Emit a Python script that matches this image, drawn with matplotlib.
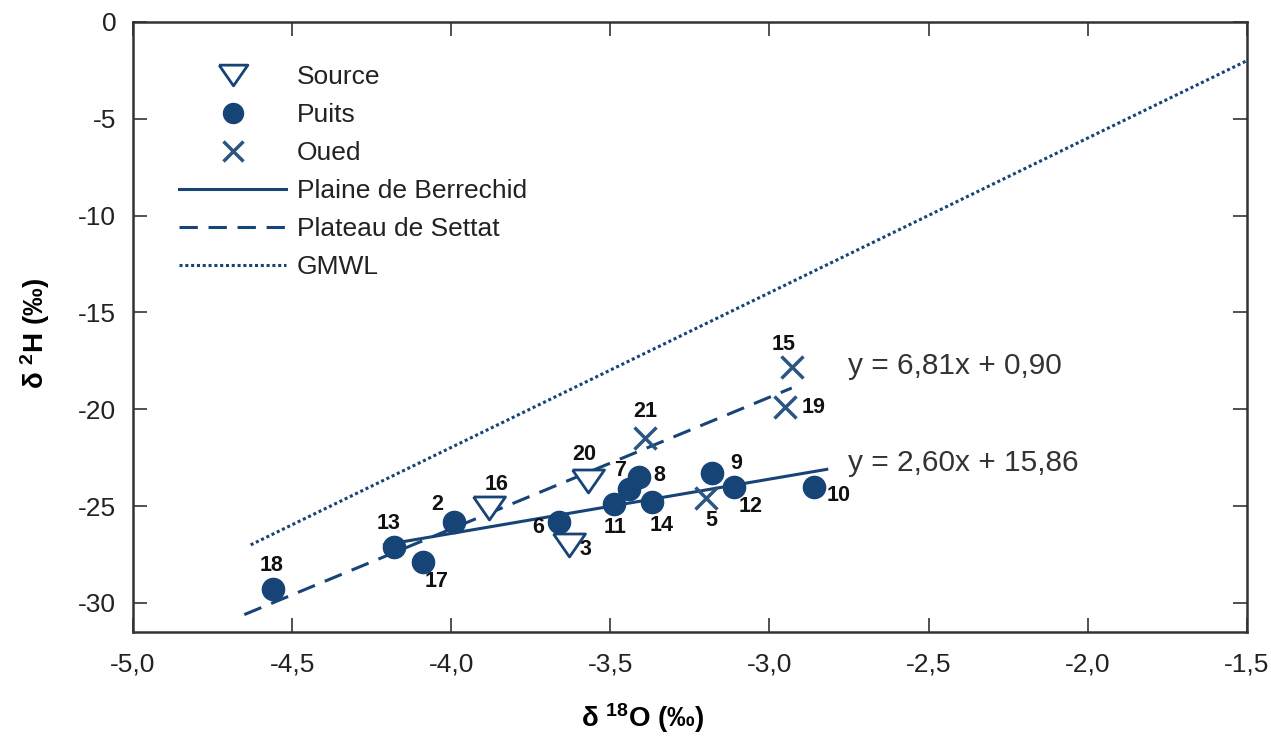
import numpy as np
import matplotlib.pyplot as plt
from matplotlib.ticker import FuncFormatter

plt.rcParams['font.family'] = ['Liberation Sans', 'DejaVu Sans']
plt.rcParams['mathtext.default'] = 'regular'

### 0. Data
# source (triangles)
src_id = ['16', '20', '3']
src_x = [-3.88, -3.57, -3.63]
src_y = [-25.1, -23.7, -27.0]

# puits (wells)
pts_id = ['18', '13', '17', '2', '6', '11', '7', '8', '14', '9', '12', '10']
pts_x = [-4.56, -4.18, -4.09, -3.99, -3.66, -3.49, -3.44, -3.41, -3.37, -3.18, -3.11, -2.86]
pts_y = [-29.3, -27.1, -27.9, -25.8, -25.8, -24.9, -24.1, -23.5, -24.8, -23.3, -24.0, -24.0]

# oued (river)
oued_id = ['21', '5', '15', '19']
oued_x = [-3.39, -3.20, -2.93, -2.95]
oued_y = [-21.5, -24.6, -17.8, -19.9]

# regression lines (end points)
berr_x = [-4.21, -2.82]
berr_y = [-27.0, -23.1]
sett_x = [-4.65, -2.93]
sett_y = [-30.6, -18.9]
gmwl_x = [-4.63, -1.50]
gmwl_y = [-27.0, -2.0]

# label offsets in points
lbl_off = {
    '18': (-1, 17), '13': (-4, 17), '17': (10, -14), '2': (-12, 12),
    '16': (5, 17), '20': (-3, 19), '6': (-15, -4), '3': (12, -3),
    '7': (-7, 13), '11': (1, -17), '8': (15, 1), '14': (7, -17),
    '21': (0, 19), '9': (17, 7), '5': (4, -16), '12': (12, -14),
    '10': (18, -6), '15': (-6, 16), '19': (20, 0),
}

col = '#174477'
tri = [(-1, 0.72), (1, 0.72), (0, -0.72), (-1, 0.72)]

### 1. Plot
fig, ax = plt.subplots(figsize=(12.71, 7.5), dpi=100)
fig.subplots_adjust(left=0.1046, right=0.981, top=0.9707, bottom=0.1573)

ax.plot(berr_x, berr_y, '-', color=col, lw=2.2, label='Plaine de Berrechid')
ax.plot(sett_x, sett_y, '--', color=col, lw=2.2, dashes=(6, 3.5), label='Plateau de Settat')
ax.plot(gmwl_x, gmwl_y, ':', color=col, lw=2.2, dashes=(1, 0.9), label='GMWL')

ax.plot(src_x, src_y, marker=tri, ms=23, mfc='white', mec=col, mew=2, ls='none', label='Source')
ax.plot(pts_x, pts_y, 'o', ms=16, color=col, ls='none', label='Puits')
ax.plot(oued_x, oued_y, 'x', ms=15.5, mew=2.5, color='#2a5680', ls='none', label='Oued')

lab_font = dict(family=['Liberation Sans', 'DejaVu Sans'], fontsize=15.5,
                fontweight='bold', color='#111111')
for ids, xs, ys in [(src_id, src_x, src_y), (pts_id, pts_x, pts_y), (oued_id, oued_x, oued_y)]:
    for i, x, y in zip(ids, xs, ys):
        ax.annotate(i, (x, y), xytext=lbl_off[i], textcoords='offset points',
                    ha='center', va='center', **lab_font)

ax.text(-2.754, -17.76, 'y = 6,81x + 0,90', fontsize=21.5, color='#333333', va='center')
ax.text(-2.754, -22.77, 'y = 2,60x + 15,86', fontsize=21.5, color='#333333', va='center')

handles, labels = ax.get_legend_handles_labels()
order = [3, 4, 5, 0, 1, 2]
leg = ax.legend([handles[k] for k in order], [labels[k] for k in order],
                loc='upper left', bbox_to_anchor=(0.02, 0.968), frameon=False,
                fontsize=19, handlelength=4.07, labelspacing=0.53,
                handletextpad=0.4, markerscale=0.9)
for t in leg.get_texts():
    t.set_color('#222222')

ax.set_xlim(-5.0, -1.5)
ax.set_ylim(-31.5, 0)
ax.set_xticks(np.arange(-5.0, -1.49, 0.5))
ax.set_yticks(np.arange(-30, 1, 5))
ax.xaxis.set_major_formatter(FuncFormatter(lambda v, p: ('%.1f' % v).replace('.', ',')))
ax.yaxis.set_major_formatter(FuncFormatter(lambda v, p: '%d' % v))
ax.tick_params(direction='in', length=10, width=1.2, top=True, right=True,
               labelsize=19, colors='#333333', labelcolor='#222222')
ax.tick_params(axis='x', pad=15)
ax.tick_params(axis='y', pad=12)
for s in ax.spines.values():
    s.set_linewidth(1.8)
    s.set_color('#333333')

ax.set_ylabel('δ $^{2}$H (‰)', fontsize=20, fontweight='bold')
ax.set_xlabel('δ $^{18}$O (‰)', fontsize=20, fontweight='bold')
ax.yaxis.set_label_coords(-0.073, 0.49)
ax.xaxis.set_label_coords(0.458, -0.113)

plt.savefig('out.png', dpi=100)
